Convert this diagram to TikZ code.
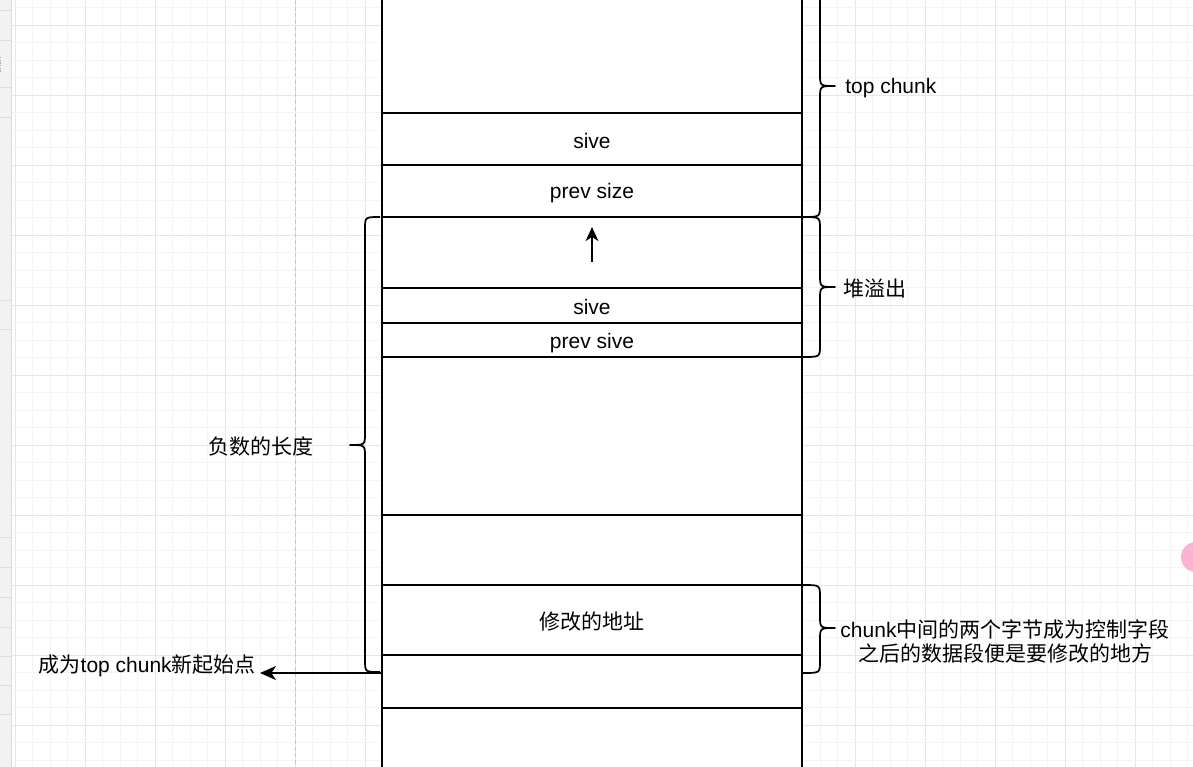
\documentclass[tikz,border=0pt]{standalone}
\usepackage{fontspec}
\setmainfont{Liberation Sans}
\newfontfamily\cjk{Noto Sans CJK SC}
\usetikzlibrary{arrows.meta}
\definecolor{gridminor}{HTML}{F4F4F4}
\definecolor{gridmajor}{HTML}{E6E6E6}
\definecolor{sidebar}{HTML}{F1F2F4}
\definecolor{sideline}{HTML}{DADCE0}
\definecolor{pinkdot}{HTML}{F8B4D0}
\tikzset{
  px/.style={x=0.75pt,y=-0.75pt},
  box/.style={line width=1.3pt,draw=black},
  brace/.style={line width=1.3pt,draw=black,line join=round},
  lbl/.style={font=\fontsize{15.75pt}{19pt}\selectfont,inner sep=0pt,text=black,yshift=-1.2pt},
  arr/.style={line width=1.3pt,-{Stealth[length=12pt,width=10.5pt,inset=3.5pt]}},
  uparr/.style={line width=1.3pt,-{Stealth[length=10.5pt,width=9.5pt,inset=3pt]}}
}
\begin{document}
\begin{tikzpicture}[px]
\useasboundingbox (0,0) rectangle (1193,767);
\fill[white] (0,0) rectangle (1193,767);
% grid
\foreach \k in {0,...,67}{
  \pgfmathsetmacro{\xx}{15.3+17.5*\k}
  \pgfmathtruncatemacro{\m}{mod(\k,4)}
  \ifnum\m=0
    \draw[gridmajor,line width=0.75pt] (\xx,0) -- (\xx,767);
  \else
    \draw[gridminor,line width=0.75pt] (\xx,0) -- (\xx,767);
  \fi
}
\foreach \k in {0,...,43}{
  \pgfmathsetmacro{\yy}{7.8+17.5*\k}
  \pgfmathtruncatemacro{\m}{mod(\k+3,4)}
  \ifnum\m=0
    \draw[gridmajor,line width=0.75pt] (12,\yy) -- (1193,\yy);
  \else
    \draw[gridminor,line width=0.75pt] (12,\yy) -- (1193,\yy);
  \fi
}
% sidebar
\fill[sidebar] (0,0) rectangle (11.5,767);
\draw[sideline,line width=1pt] (11.5,0) -- (11.5,767);
\foreach \yy in {11,41,88,118,300,329,537,567,597,627,656,685,714}{
  \draw[sideline,line width=0.75pt] (0,\yy) -- (11,\yy);
}
\draw[gray!60,line width=0.75pt,dash pattern=on 1pt off 1pt] (0.8,57) -- (0.8,72);
% page boundary
\draw[gray!45,line width=0.75pt,dash pattern=on 3pt off 2pt] (295.5,0) -- (295.5,767);
% pink dot
\fill[pinkdot] (1196,557) circle (15);

% main column
\fill[white] (382,-5) rectangle (802,772);
\draw[box] (382,-5) -- (382,772);
\draw[box] (802,-5) -- (802,772);
\foreach \yy in {113,165,217,288,323,357,515,585,655,708}{
  \draw[box] (382,\yy) -- (802,\yy);
}
\node[lbl] (sive1) at (592,139) {sive};
\node[lbl] (prevsize) at (592,191) {prev size};
\node[lbl] (sive2) at (592,305.5) {sive};
\node[lbl] (prevsive) at (592,341) {prev sive};
\node[lbl] (addr) at (592,620) {\cjk 修改的地址};
\coordinate (ua) at (592,262);
\coordinate (ub) at (592,227);
\draw[uparr] (ua) -- (ub);

% right braces
\draw[brace] (803,-5) -- (820,-5) -- (820,74) .. controls (820,86) .. (835,86)
  .. controls (820,86) .. (820,98) -- (820,205) .. controls (820,217) .. (803,217);
\node[lbl,anchor=west] (topchunk) at (845,86) {top chunk};

\draw[brace] (803,217) .. controls (820,217) .. (820,229) -- (820,275) .. controls (820,287) .. (835,287)
  .. controls (820,287) .. (820,299) -- (820,345) .. controls (820,357) .. (803,357);
\node[lbl,anchor=west] (overflow) at (843,287) {\cjk 堆溢出};

\draw[brace] (803,585) .. controls (820,585) .. (820,597) -- (820,616) .. controls (820,628) .. (835,628)
  .. controls (820,628) .. (820,640) -- (820,661) .. controls (820,673) .. (803,673);
\node[lbl,align=center] (note) at (1005,639.5) {chunk{\cjk 中间的两个字节成为控制字段}\\[-1pt]{\cjk 之后的数据段便是要修改的地方}};

% left brace
\draw[brace] (380,217) .. controls (365,217) .. (365,229) -- (365,433) .. controls (365,445) .. (350,445)
  .. controls (365,445) .. (365,457) -- (365,660) .. controls (365,672) .. (380,672);
\node[lbl,anchor=east] (neglen) at (314,445) {\cjk 负数的长度};

% arrow to new start
\coordinate (as) at (382,673);
\coordinate (ae) at (260,673);
\draw[arr] (as) -- (ae);
\node[lbl,anchor=east] (newstart) at (256,664) {{\cjk 成为}top chunk{\cjk 新起始点}};
\end{tikzpicture}
\end{document}
